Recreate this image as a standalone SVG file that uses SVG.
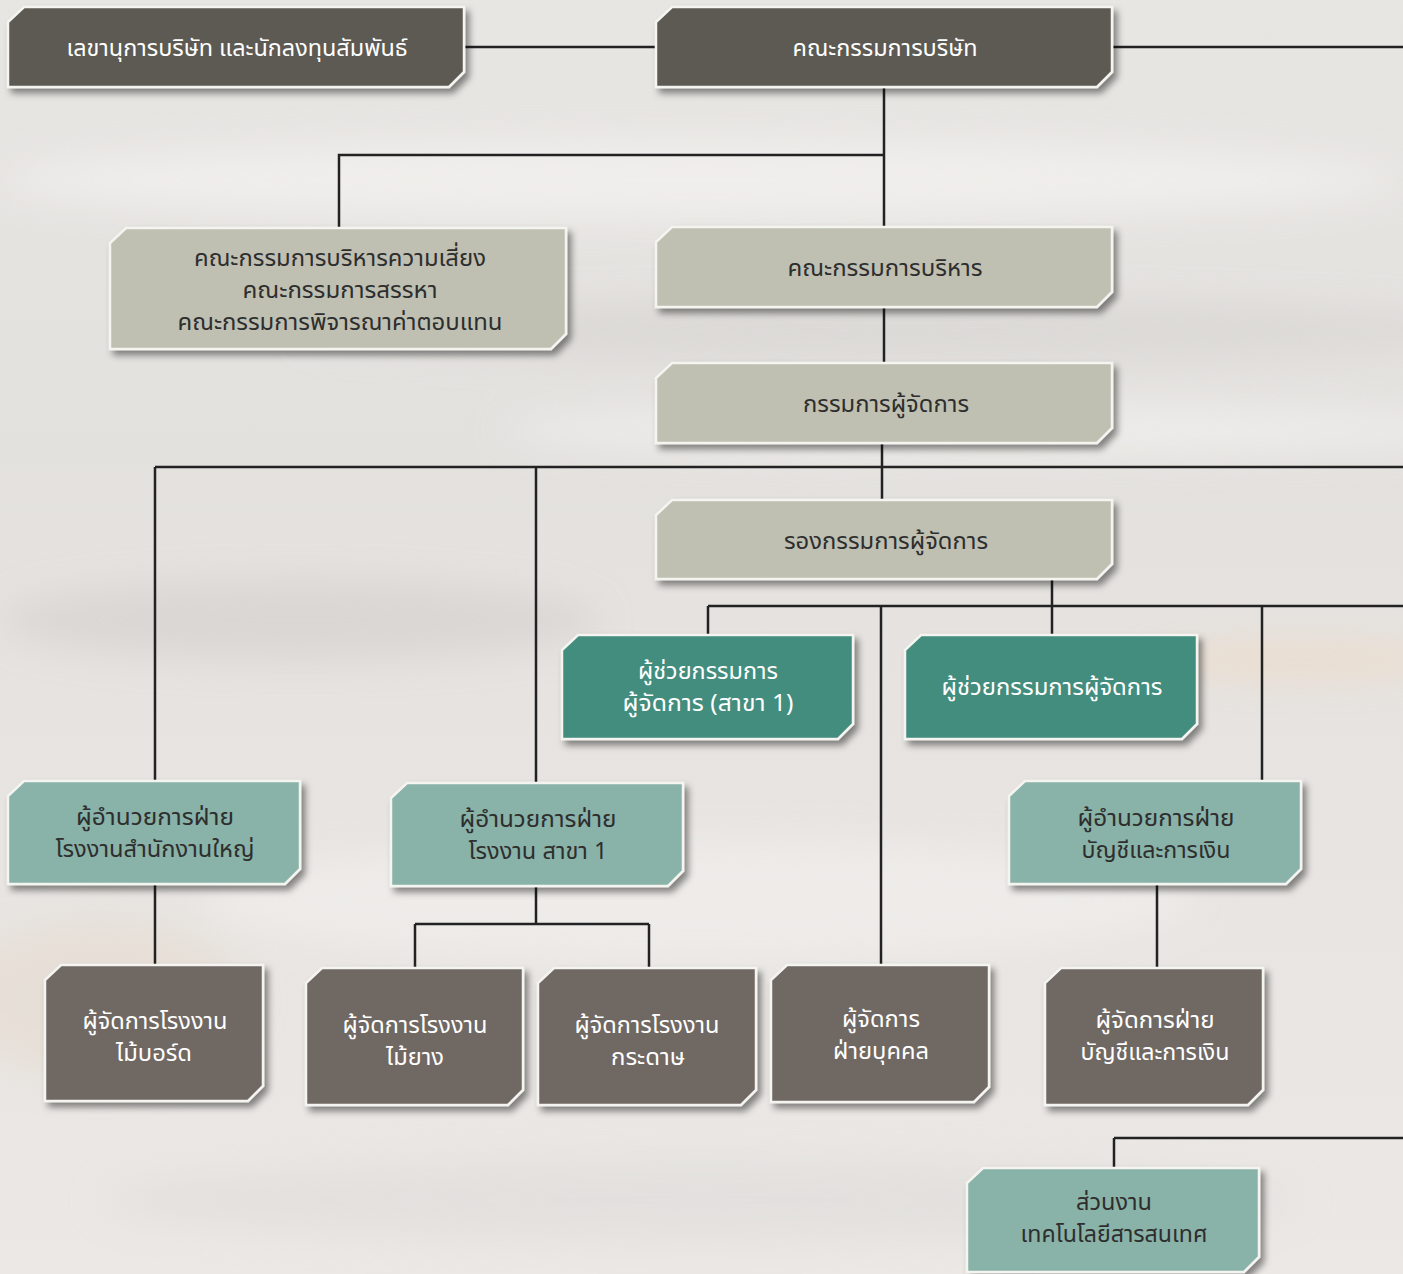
<svg xmlns="http://www.w3.org/2000/svg" width="1403" height="1274" viewBox="0 0 1403 1274">
<defs>
<linearGradient id="bg" x1="0" y1="0" x2="0" y2="1">
<stop offset="0" stop-color="#e8e6e3"/>
<stop offset="0.35" stop-color="#e3e1de"/>
<stop offset="0.55" stop-color="#e6e3e0"/>
<stop offset="1" stop-color="#ebe8e5"/>
</linearGradient>
<filter id="blur" x="-20%" y="-50%" width="140%" height="200%"><feGaussianBlur stdDeviation="18"/></filter>
<filter id="sh" x="-10%" y="-20%" width="130%" height="150%"><feDropShadow dx="4" dy="5" stdDeviation="3.5" flood-color="#000" flood-opacity="0.45"/></filter>
<style>
.box{stroke:#f4f4f0;stroke-width:2.5;filter:url(#sh)}
.d1{fill:#5b5a52}
.d2{fill:#bfc0b2}
.d3{fill:#438d7e}
.d4{fill:#89b2a8}
.d5{fill:#706764}
text{font-family:"Noto Sans Thai","Noto Sans Thai Looped","Noto Sans","DejaVu Sans",sans-serif;font-size:23.5px;text-anchor:middle}
.w{fill:#ffffff}
.k{fill:#2e2e2e}
.ln{stroke:#222;stroke-width:2.5;fill:none}
</style>
</defs>
<rect width="1403" height="1274" fill="url(#bg)"/>
<g filter="url(#blur)" opacity="0.7">
<ellipse cx="700" cy="180" rx="700" ry="40" fill="#f4f3f1"/>
<ellipse cx="900" cy="330" rx="600" ry="30" fill="#d8d6d3"/>
<ellipse cx="1000" cy="430" rx="500" ry="25" fill="#f3f2f0"/>
<ellipse cx="300" cy="620" rx="300" ry="40" fill="#d5d2cf"/>
<ellipse cx="700" cy="900" rx="500" ry="60" fill="#f1efec"/>
<ellipse cx="100" cy="1000" rx="150" ry="80" fill="#e6ddd3"/>
<ellipse cx="1300" cy="660" rx="150" ry="15" fill="#f0d9c2"/>
<ellipse cx="700" cy="1200" rx="600" ry="40" fill="#e0dedb"/>
</g>

<g id="connectors">
<path class="ln" d="M464 47H656M1112 47H1403"/>
<path class="ln" d="M884 87V227M884 155H339V228"/>
<path class="ln" d="M884 307V363"/>
<path class="ln" d="M882 443V500M155 467H1403M155 467V781M536 467V783"/>
<path class="ln" d="M1052 579V635M708 606H1403M708 606V635M881 606V965M1262 606V781"/>
<path class="ln" d="M155 884V965M536 886V924M415 924H649M415 924V968M649 924V968M1157 884V968"/>
<path class="ln" d="M1114 1138H1403M1114 1138V1168"/>
</g>

<g id="n1"><path class="box d1" d="M24 7H464V72L449 87H8V22Z"/><text class="w" x="237" y="56" textLength="341" lengthAdjust="spacingAndGlyphs">เลขานุการบริษัท และนักลงทุนสัมพันธ์</text></g>
<g id="n2"><path class="box d1" d="M672 7H1112V72L1097 87H656V22Z"/><text class="w" x="885" y="56" textLength="185" lengthAdjust="spacingAndGlyphs">คณะกรรมการบริษัท</text></g>
<g id="n3"><path class="box d2" d="M126 228H566V334L551 349H110V243Z"/>
<text class="k" x="340" y="266" textLength="292" lengthAdjust="spacingAndGlyphs">คณะกรรมการบริหารความเสี่ยง</text>
<text class="k" x="340" y="298" textLength="195" lengthAdjust="spacingAndGlyphs">คณะกรรมการสรรหา</text>
<text class="k" x="340" y="330" textLength="325" lengthAdjust="spacingAndGlyphs">คณะกรรมการพิจารณาค่าตอบแทน</text></g>
<g id="n4"><path class="box d2" d="M672 227H1112V292L1097 307H656V242Z"/><text class="k" x="885" y="276" textLength="195" lengthAdjust="spacingAndGlyphs">คณะกรรมการบริหาร</text></g>
<g id="n5"><path class="box d2" d="M672 363H1112V428L1097 443H656V378Z"/><text class="k" x="886" y="412" textLength="166" lengthAdjust="spacingAndGlyphs">กรรมการผู้จัดการ</text></g>
<g id="n6"><path class="box d2" d="M672 500H1112V564L1097 579H656V515Z"/><text class="k" x="886" y="549" textLength="204" lengthAdjust="spacingAndGlyphs">รองกรรมการผู้จัดการ</text></g>
<g id="n7"><path class="box d3" d="M578 635H853V724L838 739H562V650Z"/>
<text class="w" x="708" y="679" textLength="140" lengthAdjust="spacingAndGlyphs">ผู้ช่วยกรรมการ</text>
<text class="w" x="708" y="711" textLength="171" lengthAdjust="spacingAndGlyphs">ผู้จัดการ (สาขา 1)</text></g>
<g id="n8"><path class="box d3" d="M921 635H1197V724L1182 739H905V650Z"/><text class="w" x="1052" y="695" textLength="221" lengthAdjust="spacingAndGlyphs">ผู้ช่วยกรรมการผู้จัดการ</text></g>
<g id="n9"><path class="box d4" d="M24 781H300V869L285 884H8V796Z"/>
<text class="k" x="155" y="825" textLength="158" lengthAdjust="spacingAndGlyphs">ผู้อำนวยการฝ่าย</text>
<text class="k" x="155" y="857" textLength="199" lengthAdjust="spacingAndGlyphs">โรงงานสำนักงานใหญ่</text></g>
<g id="n10"><path class="box d4" d="M407 783H683V871L668 886H391V798Z"/>
<text class="k" x="538" y="827" textLength="157" lengthAdjust="spacingAndGlyphs">ผู้อำนวยการฝ่าย</text>
<text class="k" x="538" y="859" textLength="139" lengthAdjust="spacingAndGlyphs">โรงงาน สาขา 1</text></g>
<g id="n11"><path class="box d4" d="M1025 781H1301V869L1286 884H1009V796Z"/>
<text class="k" x="1156" y="826" textLength="157" lengthAdjust="spacingAndGlyphs">ผู้อำนวยการฝ่าย</text>
<text class="k" x="1156" y="858" textLength="149" lengthAdjust="spacingAndGlyphs">บัญชีและการเงิน</text></g>
<g id="n12"><path class="box d5" d="M61 965H263V1086L248 1101H45V980Z"/>
<text class="w" x="155" y="1029" textLength="145" lengthAdjust="spacingAndGlyphs">ผู้จัดการโรงงาน</text>
<text class="w" x="154" y="1061" textLength="76" lengthAdjust="spacingAndGlyphs">ไม้บอร์ด</text></g>
<g id="n13"><path class="box d5" d="M322 968H523V1090L508 1105H306V983Z"/>
<text class="w" x="415" y="1033" textLength="145" lengthAdjust="spacingAndGlyphs">ผู้จัดการโรงงาน</text>
<text class="w" x="415" y="1065" textLength="58" lengthAdjust="spacingAndGlyphs">ไม้ยาง</text></g>
<g id="n14"><path class="box d5" d="M554 968H756V1090L741 1105H538V983Z"/>
<text class="w" x="647" y="1033" textLength="145" lengthAdjust="spacingAndGlyphs">ผู้จัดการโรงงาน</text>
<text class="w" x="648" y="1065" textLength="74" lengthAdjust="spacingAndGlyphs">กระดาษ</text></g>
<g id="n15"><path class="box d5" d="M787 965H989V1087L974 1102H771V980Z"/>
<text class="w" x="881" y="1027" textLength="78" lengthAdjust="spacingAndGlyphs">ผู้จัดการ</text>
<text class="w" x="881" y="1059" textLength="96" lengthAdjust="spacingAndGlyphs">ฝ่ายบุคคล</text></g>
<g id="n16"><path class="box d5" d="M1061 968H1263V1090L1248 1105H1045V983Z"/>
<text class="w" x="1155" y="1028" textLength="119" lengthAdjust="spacingAndGlyphs">ผู้จัดการฝ่าย</text>
<text class="w" x="1155" y="1060" textLength="149" lengthAdjust="spacingAndGlyphs">บัญชีและการเงิน</text></g>
<g id="n17"><path class="box d4" d="M983 1168H1259V1257L1244 1272H967V1183Z"/>
<text class="k" x="1114" y="1210" textLength="76" lengthAdjust="spacingAndGlyphs">ส่วนงาน</text>
<text class="k" x="1114" y="1242" textLength="187" lengthAdjust="spacingAndGlyphs">เทคโนโลยีสารสนเทศ</text></g>
</svg>
